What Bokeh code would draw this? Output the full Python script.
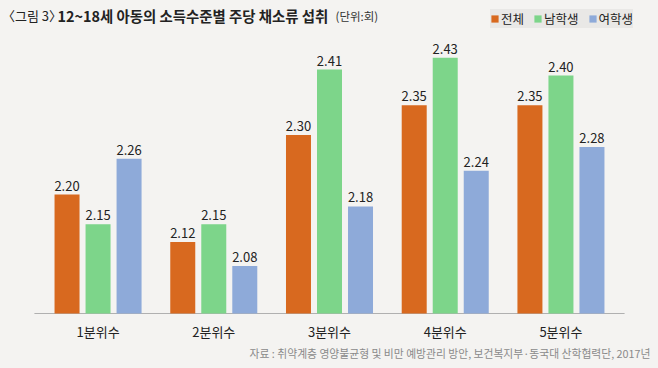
from bokeh.plotting import figure
from bokeh.models import FactorRange, Range1d, ColumnDataSource, LabelSet, Label, Legend
from bokeh.core.properties import value
from bokeh.transform import dodge
from bokeh.embed import file_html
from bokeh.resources import INLINE

categories = ["1분위수", "2분위수", "3분위수", "4분위수", "5분위수"]
series_names = ["전체", "남학생", "여학생"]
total = [2.20, 2.12, 2.30, 2.35, 2.35]
boys = [2.15, 2.15, 2.41, 2.43, 2.40]
girls = [2.26, 2.08, 2.18, 2.24, 2.28]

colors = ["#d8691f", "#7dd58a", "#8eaad9"]
BG = "#f4f3f1"
FONT = "Noto Sans CJK KR"

Y0 = 2.0
W, H = 658, 368
PX_PER_UNIT = 595.0
BASE_PX = 55  # pixels below the baseline
y_start = Y0 - BASE_PX / PX_PER_UNIT
y_end = Y0 + (H - BASE_PX) / PX_PER_UNIT

src = ColumnDataSource(dict(
    cat=categories,
    base=[Y0] * len(categories),
    total=total, boys=boys, girls=girls,
    total_t=[f"{v:.2f}" for v in total],
    boys_t=[f"{v:.2f}" for v in boys],
    girls_t=[f"{v:.2f}" for v in girls],
))

p = figure(width=W, height=H, output_backend="svg", toolbar_location=None,
           x_range=FactorRange(*categories, range_padding=0.343, range_padding_units="absolute"),
           y_range=Range1d(y_start, y_end),
           x_axis_location=None, y_axis_location=None,
           min_border=0, min_border_left=0, min_border_right=0,
           min_border_top=0, min_border_bottom=0)
p.background_fill_color = BG
p.border_fill_color = BG
p.outline_line_color = None
p.grid.visible = False

# baseline (category axis line)
n = len(categories)
p.segment(x0=[-0.05], y0=[Y0], x1=[n + 0.05], y1=[Y0], line_color="#b0b0b0", line_width=1)

# category labels
p.add_layout(LabelSet(x="cat", y="base", text="cat", source=src, y_offset=-18,
                      text_align="center", text_baseline="middle",
                      text_font=value(FONT), text_font_size=value("13px"),
                      text_color="#222222"))

offsets = [-0.268, 0.0, 0.268]
cols = ["total", "boys", "girls"]
items = []
for off, col, name, c in zip(offsets, cols, series_names, colors):
    r = p.vbar(x=dodge("cat", off, range=p.x_range), top=col, bottom=Y0, width=0.216,
               source=src, fill_color=c, line_color=None)
    items.append((name, [r]))
    p.add_layout(LabelSet(x=dodge("cat", off, range=p.x_range), y=col, text=col + "_t",
                          source=src, text_align="center", text_baseline="alphabetic",
                          y_offset=4, text_font=value(FONT), text_font_size=value("13px"),
                          text_color="#222222"))

legend = Legend(items=items, orientation="horizontal", location=(490, 340),
                background_fill_color="#e9e8e6", background_fill_alpha=1.0,
                border_line_color=None, glyph_width=9, glyph_height=9,
                label_standoff=2, spacing=9, padding=4, margin=0,
                label_text_font=FONT, label_text_font_size="12.5px",
                label_text_color="#222222", label_height=13, label_width=10)
p.add_layout(legend)

p.add_layout(Label(x=1.5, y=353, x_units="screen", y_units="screen", text="〈그림 3〉",
                   text_font=FONT, text_font_size="13px", text_color="#222222",
                   text_baseline="middle"))
p.add_layout(Label(x=57, y=353, x_units="screen", y_units="screen",
                   text="12~18세 아동의 소득수준별 주당 채소류 섭취",
                   text_font=FONT, text_font_size="14.4px", text_font_style="bold",
                   text_color="#222222", text_baseline="middle"))
p.add_layout(Label(x=335, y=353, x_units="screen", y_units="screen", text="(단위:회)",
                   text_font=FONT, text_font_size="11.5px", text_color="#333333",
                   text_baseline="middle"))
p.add_layout(Label(x=650, y=16, x_units="screen", y_units="screen",
                   text="자료 : 취약계층 영양불균형 및 비만 예방관리 방안, 보건복지부·동국대 산학협력단, 2017년",
                   text_font=FONT, text_font_size="10.8px", text_color="#8a8a8a",
                   text_align="right", text_baseline="middle"))

html = file_html(p, INLINE)
style = ("<style>html,body{background:%s !important;margin:0 !important;"
         "padding:0 !important;overflow:hidden}</style>" % BG)
html = html.replace("</head>", style + "</head>", 1)
open("out.html", "w").write(html)
